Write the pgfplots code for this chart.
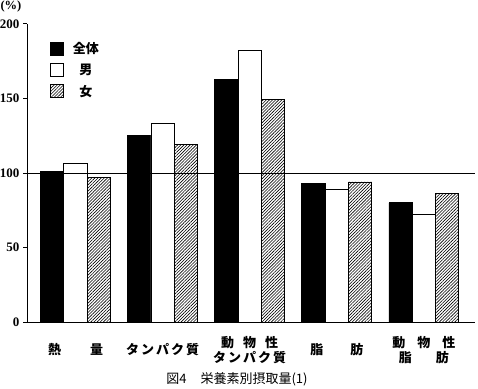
\documentclass[border=0pt]{standalone}
\usepackage{fontspec}
\setmainfont{Liberation Serif}
\newfontfamily\jp{Noto Sans CJK JP}
\usepackage{pgfplots}
\pgfplotsset{compat=1.18}
\usetikzlibrary{patterns.meta}

\pgfplotstableread{
x all male female
0 101 106.5 97
1 125 133 119
2 162.5 182 149.5
3 92.7 89 94
4 80 72 86
}\datatable

\begin{document}
\begin{tikzpicture}
\useasboundingbox (-27pt,-66pt) rectangle (451pt,322pt);
\begin{axis}[
  at={(0pt,0pt)}, anchor=south west,
  scale only axis, width=448pt, height=298pt,
  xmin=-0.557, xmax=4.587, ymin=0, ymax=200,
  axis x line=bottom, axis y line=left,
  axis line style={-, line width=1pt},
  ytick={0,50,100,150,200},
  tick align=outside, major tick length=4pt,
  y tick style={line width=1pt, black},
  xtick={0,1,2,3,4},
  x tick style={draw=none},
  yticklabel style={font=\bfseries\fontsize{13}{13}\selectfont, xshift=0pt},
  /pgf/number format/assume math mode=true,
  xticklabels={
    {熱\hspace{29pt}量},
    {タ\hspace{2pt}ン\hspace{2pt}パ\hspace{2pt}ク\hspace{2pt}質},
    {動\hspace{9pt}物\hspace{9pt}性\\タ\hspace{2pt}ン\hspace{2pt}パ\hspace{2pt}ク\hspace{2pt}質},
    {脂\hspace{27pt}肪},
    {動\hspace{12pt}物\hspace{12pt}性\\脂\hspace{24pt}肪}
  },
  xticklabel style={font=\jp\bfseries\fontsize{13}{15}\selectfont, align=center, anchor=center, yshift=-24pt},
  ybar=0pt, bar width=23.3pt,
  legend image code/.code={\draw[#1] (0pt,-6.5pt) rectangle (13pt,6.5pt);},
  legend style={at={(0.0513,0.946)}, anchor=north west, draw=none, fill=none,
    inner sep=0pt, row sep=5pt,
    font=\jp\bfseries\fontsize{13}{13}\selectfont,
    nodes={inner xsep=9pt}},
  legend cell align=center,
  clip=false,
]
\addplot[draw=black, line width=0.8pt, fill=black] table[x=x, y=all] {\datatable};
\addplot[draw=black, line width=0.8pt, fill=white] table[x=x, y=male] {\datatable};
\addplot[draw=black, line width=0.8pt, pattern={Lines[angle=45, distance=2.2pt, line width=0.6pt]}] table[x=x, y=female] {\datatable};
\legend{全体, 男, 女}
\addplot[sharp plot, forget plot, black, line width=0.9pt] coordinates {(-0.557,100) (4.587,100)};
\end{axis}
\node[font=\bfseries\fontsize{12.5}{12.5}\selectfont] at (-16pt,316pt) {(\%)};
\node[font=\jp\fontsize{13}{13}\selectfont] at (210pt,-57pt) {図4\hspace{14pt}栄養素別摂取量(1)};
\end{tikzpicture}
\end{document}
